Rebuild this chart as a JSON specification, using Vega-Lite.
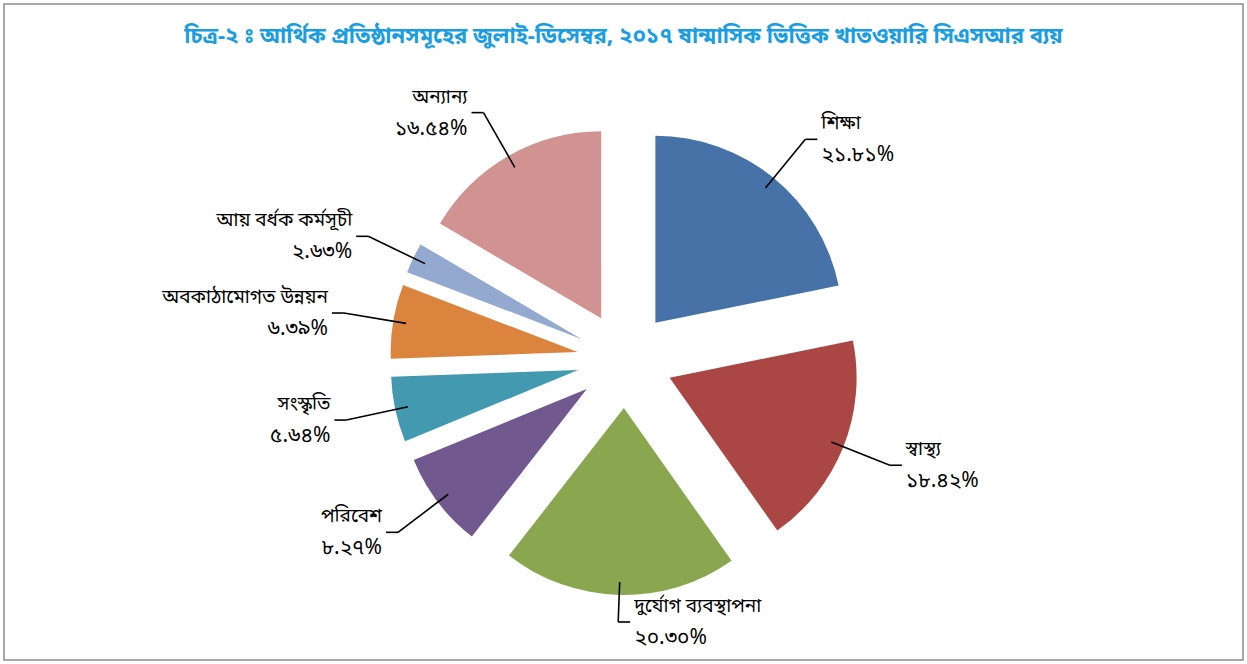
{
  "$schema": "https://vega.github.io/schema/vega-lite/v6.json",
  "width": 1247,
  "height": 664,
  "autosize": {"type": "fit", "contains": "padding"},
  "padding": 4,
  "background": "white",
  "title": {
    "text": "চিত্র-২\u00a0ঃ আর্থিক প্রতিষ্ঠানসমূহের জুলাই-ডিসেম্বর, ২০১৭ ষান্মাসিক ভিত্তিক খাতওয়ারি সিএসআর ব্যয়",
    "orient": "top",
    "anchor": "middle",
    "frame": "group",
    "offset": -54,
    "baseline": "middle",
    "fontSize": 22,
    "fontWeight": "bold",
    "color": "#1b9de2",
    "font": "Noto Sans Bengali, Noto Serif Bengali, Lohit Bengali, sans-serif"
  },
  "config": {"view": {"stroke": "#8c8c8c", "strokeWidth": 1.5}},
  "data": {
    "values": [
      {"order": 1, "name": "শিক্ষা", "value": 21.81, "pct": "২১.৮১%"},
      {"order": 2, "name": "স্বাস্থ্য", "value": 18.42, "pct": "১৮.৪২%"},
      {"order": 3, "name": "দুর্যোগ ব্যবস্থাপনা", "value": 20.30, "pct": "২০.৩০%"},
      {"order": 4, "name": "পরিবেশ", "value": 8.27, "pct": "৮.২৭%"},
      {"order": 5, "name": "সংস্কৃতি", "value": 5.64, "pct": "৫.৬৪%"},
      {"order": 6, "name": "অবকাঠামোগত উন্নয়ন", "value": 6.39, "pct": "৬.৩৯%"},
      {"order": 7, "name": "আয় বর্ধক কর্মসূচী", "value": 2.63, "pct": "২.৬৩%"},
      {"order": 8, "name": "অন্যান্য", "value": 16.54, "pct": "১৬.৫৪%"}
    ]
  },
  "transform": [
    {"window": [{"op": "sum", "field": "value", "as": "cum"}], "sort": [{"field": "order"}], "frame": [null, 0]},
    {"calculate": "datum.cum - datum.value", "as": "start"},
    {"calculate": "(datum.cum - datum.value / 2) * 2 * PI / 100", "as": "mid"},
    {"calculate": "sin(datum.mid)", "as": "ux"},
    {"calculate": "cos(datum.mid)", "as": "uy"},
    {"calculate": "datum.ux > -0.1 ? 1 : -1", "as": "side"},
    {"calculate": "48 * datum.ux", "as": "cx"},
    {"calculate": "48 * datum.uy", "as": "cy"},
    {"calculate": "222 * datum.ux", "as": "sx"},
    {"calculate": "222 * datum.uy", "as": "sy"},
    {"calculate": "285 * datum.ux", "as": "ex"},
    {"calculate": "clamp(285 * datum.uy, -262, 262)", "as": "ey"},
    {"calculate": "datum.ex + 12 * datum.side", "as": "tx"},
    {"calculate": "datum.ex + 16 * datum.side", "as": "lx"}
  ],
  "layer": [
    {
      "mark": {"type": "arc", "radius": 187},
      "encoding": {
        "theta": {"field": "start", "type": "quantitative", "scale": {"domain": [0, 100]}, "stack": null},
        "theta2": {"field": "cum"},
        "x": {"field": "cx", "type": "quantitative", "scale": {"domain": [-621, 618], "nice": false, "zero": false}, "axis": null},
        "y": {"field": "cy", "type": "quantitative", "scale": {"domain": [-300, 356], "nice": false, "zero": false}, "axis": null},
        "color": {
          "field": "name",
          "type": "nominal",
          "scale": {
            "domain": ["শিক্ষা", "স্বাস্থ্য", "দুর্যোগ ব্যবস্থাপনা", "পরিবেশ", "সংস্কৃতি", "অবকাঠামোগত উন্নয়ন", "আয় বর্ধক কর্মসূচী", "অন্যান্য"],
            "range": ["#4672a8", "#aa4744", "#8aa64f", "#71588f", "#4299b0", "#db843e", "#93a9d0", "#d19392"]
          },
          "legend": null
        }
      }
    },
    {
      "mark": {"type": "rule", "color": "black", "strokeWidth": 1.6},
      "encoding": {
        "x": {"field": "sx", "type": "quantitative"},
        "y": {"field": "sy", "type": "quantitative"},
        "x2": {"field": "ex"},
        "y2": {"field": "ey"}
      }
    },
    {
      "mark": {"type": "rule", "color": "black", "strokeWidth": 1.6},
      "encoding": {
        "x": {"field": "ex", "type": "quantitative"},
        "x2": {"field": "tx"},
        "y": {"field": "ey", "type": "quantitative"}
      }
    },
    {
      "mark": {"type": "text", "baseline": "middle", "dy": -16, "fontSize": 19, "color": "black", "align": {"expr": "datum.side > 0 ? 'left' : 'right'"}, "font": "Noto Sans Bengali, Noto Serif Bengali, Lohit Bengali, sans-serif"},
      "encoding": {
        "x": {"field": "lx", "type": "quantitative"},
        "y": {"field": "ey", "type": "quantitative"},
        "text": {"field": "name", "type": "nominal"}
      }
    },
    {
      "mark": {"type": "text", "baseline": "middle", "dy": 16, "fontSize": 21, "color": "black", "align": {"expr": "datum.side > 0 ? 'left' : 'right'"}, "font": "Noto Sans Bengali, Noto Serif Bengali, Lohit Bengali, sans-serif"},
      "encoding": {
        "x": {"field": "lx", "type": "quantitative"},
        "y": {"field": "ey", "type": "quantitative"},
        "text": {"field": "pct", "type": "nominal"}
      }
    }
  ]
}
